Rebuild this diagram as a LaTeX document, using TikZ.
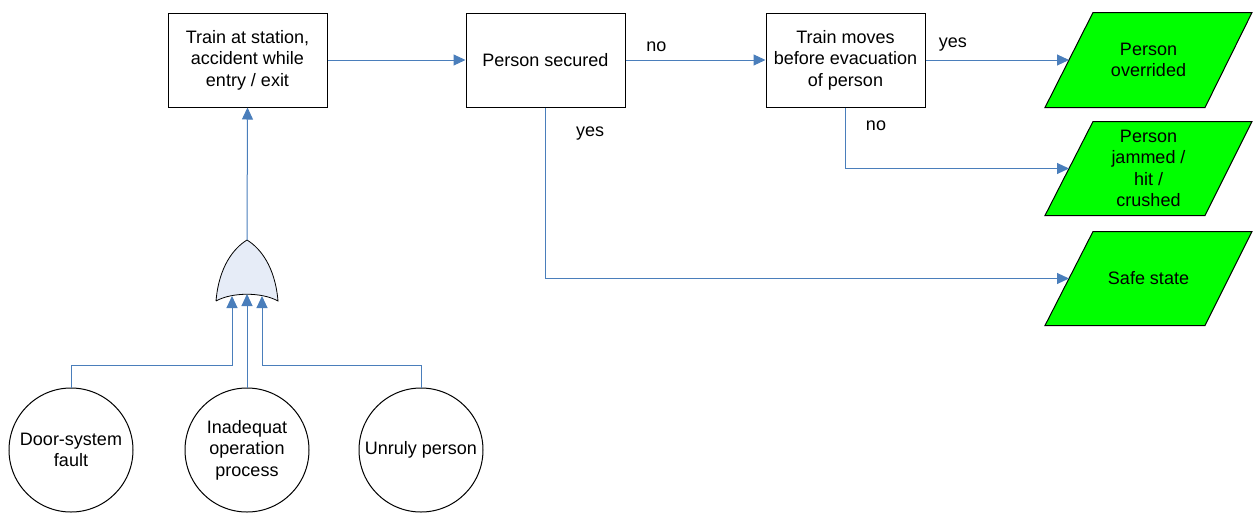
\documentclass[tikz,border=0pt]{standalone}
\usepackage{fontspec}
\setmainfont{Liberation Sans}
\usepackage{tikz}
\usetikzlibrary{positioning, arrows.meta}
\definecolor{flow_blue}{rgb}{0.290196, 0.494118, 0.733333}
\definecolor{gate_fill}{rgb}{0.901961, 0.925490, 0.968627}
\definecolor{state_green}{rgb}{0.0, 1.0, 0.0}
\tikzset{
  every node/.style={font=\fontsize{18}{21.5}\selectfont, align=center, text=black},
  stepbox/.style={draw, line width=1pt, minimum width=159pt, minimum height=94pt, inner sep=0pt},
  statebox/.style={draw, line width=1pt, fill=state_green},
  eventcircle/.style={draw, line width=1pt, circle, minimum size=124pt, inner sep=0pt},
  flow/.style={flow_blue, line width=1pt, -{Triangle[length=12pt, width=11pt]}}
}

\begin{document}
\begin{tikzpicture}[x=1pt, y=-1pt]
            \useasboundingbox (0,0) rectangle (1253,512);
            \node[stepbox] (station) at (247.5,60) {Train at station,\\accident while\\entry / exit};
            \node[stepbox] (secured) at (545.5,60) {Person secured};
            \node[stepbox] (moves) at (845.5,60) {Train moves\\before evacuation\\of person};
            \begin{scope}
                \filldraw[statebox] (1045,107.5) -- (1205,107.5) -- (1252,12.5) -- (1093,12.5) -- cycle;
                \filldraw[statebox] (1045,215.5) -- (1205,215.5) -- (1252,121.5) -- (1093,121.5) -- cycle;
                \filldraw[statebox] (1045,325.5) -- (1205,325.5) -- (1252,231.5) -- (1093,231.5) -- cycle;
                \coordinate (overrided in) at (1069,60);
                \coordinate (jammed in) at (1069,168.5);
                \coordinate (safe in) at (1069,278.5);
            \end{scope}
            \node (overrided) at (1148.5,60) {Person\\overrided};
            \node (jammed) at (1148.5,168.5) {Person\\jammed /\\hit /\\crushed};
            \node (safe) at (1148.5,278.5) {Safe state};
            \node[eventcircle] (door) at (71,450) {Door-system\\fault};
            \node[eventcircle] (operation) at (247,450) {Inadequat\\operation\\process};
            \node[eventcircle] (unruly) at (421,450) {Unruly person};
            \begin{scope}
                \filldraw[fill=gate_fill, line width=0.8pt] (216,301) .. controls (219,266) and (234,248) .. (247,240) .. controls (260,248) and (275,266) .. (278,301) .. controls (262,292) and (232,292) .. (216,301);
                \coordinate (gate out) at (247,240);
                \coordinate (gate in1) at (232,296);
                \coordinate (gate in2) at (247,294);
                \coordinate (gate in3) at (262,296);
            \end{scope}
            \draw[flow] (gate out) -- (station.south);
            \draw[flow] (door.north) |- (232,365) -- (gate in1);
            \draw[flow] (operation.north) -- (gate in2);
            \draw[flow] (unruly.north) |- (262,365) -- (gate in3);
            \draw[flow] (station.east) -- (secured.west);
            \draw[flow] (secured.east) -- (moves.west) node[pos=0.22, above=4pt]{no};
            \draw[flow] (moves.east) -- (overrided in) node[pos=0.19, above=5pt]{yes};
            \draw[flow] (moves.south) |- (jammed in);
            \draw[flow] (secured.south) |- (safe in);
            \node (no lbl) at (876,126) {no};
            \node (yes lbl) at (590,134) {yes};
        \end{tikzpicture}
\end{document}
